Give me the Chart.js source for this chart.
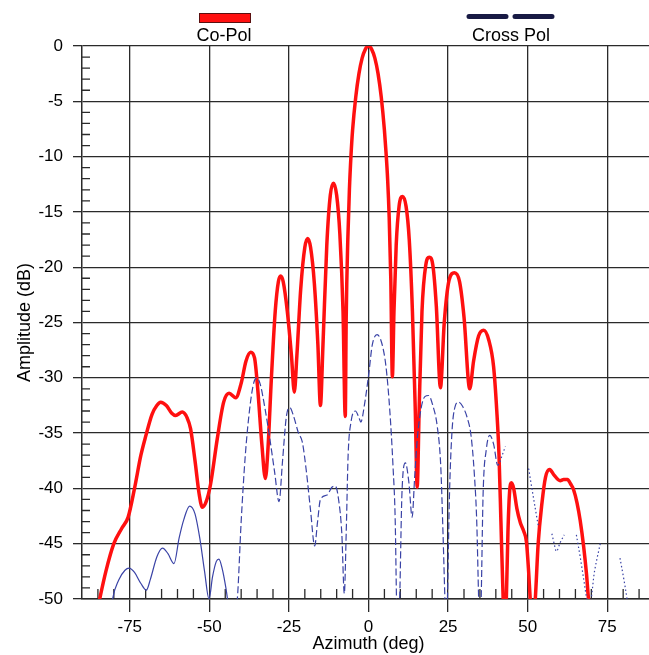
<!DOCTYPE html>
<html>
<head>
<meta charset="utf-8">
<script src="https://cdn.jsdelivr.net/npm/chart.js@4.4.1/dist/chart.umd.min.js"></script>
<style>
  html, body { margin: 0; padding: 0; background: #fff; overflow: hidden; }
  #wrap { width: 660px; height: 655px; }
</style>
</head>
<body>
<div id="wrap"><canvas id="myChart"></canvas></div>
<script>
// azimuth (deg) / amplitude (dB)
const coAz = [-85.2, -82.5, -80, -77.5, -75.5, -73.5, -71.5, -70, -68, -66.5, -65.3, -63.5, -61.8, -60.6, -58.5, -57, -55.9, -54.5, -53.2, -52.2, -51, -49.6, -47.5, -45.5, -43.8, -41.7, -40, -38.5, -37, -35.8, -34.8, -33.5, -32.4, -31.6, -30.5, -29.3, -28.3, -27.6, -26.8, -25.5, -24.2, -23.3, -22.5, -21.3, -20, -19.1, -18.2, -17, -15.9, -15.1, -14.3, -13.1, -12, -11, -10, -9, -8, -7.3, -7, -6.5, -6, -5.5, -5, -4, -3, -2, -1, 0, 1, 2, 3, 4, 5, 5.5, 6, 6.5, 7, 7.5, 8, 8.7, 9.6, 10.7, 11.8, 12.8, 13.8, 14.7, 15.3, 15.9, 16.8, 18, 19.1, 20.2, 21.3, 22.6, 23.8, 25.3, 27, 28.6, 30, 31.8, 33, 34.6, 36.2, 37.8, 39.3, 40.3, 41, 41.6, 42.3, 42.8, 43.3, 43.8, 44.3, 44.9, 45.6, 46.6, 47.7, 48.8, 49.6, 50.3, 50.8, 51.6, 52.4, 53.3, 54.5, 55.6, 56.9, 58.3, 60.2, 61.3, 62.5, 63.5, 64.4, 65.5, 66.5, 67.6, 68.5, 69.1, 69.8];
const coDb = [-51, -47.5, -45, -43.6, -42.6, -40, -37, -35.3, -33.3, -32.5, -32.2, -32.5, -33.2, -33.4, -33.1, -33.6, -34.6, -37.5, -40.5, -41.7, -41.2, -39.6, -35.5, -32.2, -31.4, -31.8, -30.5, -28.5, -27.7, -28.2, -31, -36, -39.1, -36.5, -30, -24, -21.3, -20.8, -21.3, -24, -28, -31.3, -28, -22, -18.2, -17.4, -18.2, -21.5, -27, -32.5, -27, -18, -13.5, -12.4, -13.5, -17, -24, -33.5, -24.5, -17.5, -13, -9.9, -7.6, -4.6, -2.5, -1.1, -0.3, 0, -0.3, -1.1, -2.5, -4.6, -7.6, -9.6, -12, -15.5, -21, -29.9, -24, -18, -14.5, -13.6, -14.5, -17.5, -24, -33, -39.9, -33, -24, -19.8, -19.1, -19.8, -23.5, -30.9, -25, -21.2, -20.5, -21.3, -24.5, -31, -28.5, -26.2, -25.7, -26.6, -29, -33, -37, -43, -50, -53, -50, -44, -40.4, -39.5, -40, -41.8, -43.1, -43.9, -44.8, -47.5, -50, -53, -50, -45, -41.3, -39, -38.3, -38.8, -39.3, -39.2, -39.2, -39.6, -40.1, -41.3, -42.9, -45.3, -47.8, -50, -52];

const crossAz = [-81, -80.4, -78.5, -76.5, -75.2, -73.5, -71.5, -69.8, -68.5, -66.5, -64.7, -63, -61.1, -59.5, -58, -56.2, -54.5, -53, -51.5, -50.1, -49, -47.8, -47, -46, -44.8, -44.3, -43, -41.2, -40, -38.7, -37.2, -36, -35, -34, -32.5, -31, -29.5, -28.1, -27, -25.8, -24.7, -23.5, -22, -20.8, -19.5, -18.2, -16.9, -16, -15.1, -13, -11.5, -10.4, -9.4, -8.4, -7.6, -7, -6.4, -5.5, -4.1, -3, -2.4, -1.3, 0.1, 1.2, 2.7, 4.2, 5.5, 6.7, 7.7, 8.4, 8.8, 9.3, 9.8, 10.5, 11.6, 12.7, 13.7, 14.5, 15.3, 16.5, 17.7, 18.9, 20.2, 21.6, 22.7, 23.4, 24, 24.4, 24.8, 25.4, 26.2, 27.2, 28.3, 29.6, 31, 32.2, 33.2, 34, 34.6, 35, 35.4, 36, 37, 38.1, 39.3, 40.6, 42, 43, 44, 50.3, 51.5, 52.5, 53.4, 55, 57.6, 58.4, 59, 60.2, 61.5, 63, 65.3, 66.5, 67.6, 68.6, 69.5, 71, 72.8, 75, 79, 80.2, 81.2, 81.6];
const crossDb = [-51.5, -50, -48.3, -47.4, -47.2, -47.6, -48.6, -49.2, -48.2, -46.2, -45.4, -45.9, -46.8, -44.5, -42.8, -41.6, -42.3, -44.5, -47.5, -50, -48, -46.6, -46.4, -47.2, -49, -50, -53, -50, -43, -37, -32.5, -30.4, -30, -30.6, -32.8, -35.5, -38.5, -41.2, -37.5, -33.5, -32.7, -33.5, -35, -35.8, -38.5, -42, -45.2, -43, -41, -40.6, -39.9, -39.8, -41, -44, -49.5, -44, -37, -34, -33, -33.6, -34, -32.5, -29.6, -27, -26.1, -26.9, -29, -33, -38, -43, -50, -54, -50, -40.5, -37.7, -39.5, -42.6, -39, -35.6, -32.8, -31.7, -31.6, -32.5, -34.4, -38, -44, -50, -54, -50, -41, -35, -32.6, -32.2, -32.6, -33.6, -35.2, -38.5, -43, -50, -54, -50, -40.5, -36.5, -35.2, -36, -37.9, -37, -36.2, null, -38.2, -40.3, -42, -43.5, null, -44.1, -45.1, -45.7, -44.9, -44.2, null, -44.2, -46.2, -48.2, -50, -50.5, -47.5, -45, null, -46.3, -48.2, -50, -51];

const xTicks = [-75, -50, -25, 0, 25, 50, 75];
const seriesNames = ['Co-Pol', 'Cross Pol'];

const FONT = "'Liberation Sans', Arial, sans-serif";
const GRID = '#2a2a2a';

const toPoints = (xs, ys) => xs.map((x, i) => ({ x: x, y: ys[i] }));

// minor ticks on the axes + the legend above the plot
const extras = {
  id: 'extras',
  beforeDatasetsDraw(chart) {
    const { ctx, chartArea: a, scales: { x, y } } = chart;
    ctx.save();
    ctx.strokeStyle = GRID;
    ctx.lineWidth = 1.3;
    ctx.beginPath();
    for (let v = -49; v < 0; v++) {
      if (v % 5 === 0) continue;
      const py = y.getPixelForValue(v);
      ctx.moveTo(a.left, py);
      ctx.lineTo(a.left + 8, py);
    }
    for (let v = -85; v <= 85; v += 5) {
      if (v % 25 === 0) continue;
      const px = x.getPixelForValue(v);
      ctx.moveTo(px, a.bottom);
      ctx.lineTo(px, a.bottom - 10);
    }
    ctx.stroke();
    ctx.restore();
  },
  afterDraw(chart) {
    const ctx = chart.ctx;
    ctx.save();
    // Co-Pol swatch
    ctx.fillStyle = '#ff1010';
    ctx.fillRect(199, 13, 52, 10);
    ctx.strokeStyle = '#5a1010';
    ctx.lineWidth = 1;
    ctx.strokeRect(199.5, 13.5, 51, 9);
    // Cross Pol swatch
    ctx.strokeStyle = '#181a44';
    ctx.lineWidth = 5;
    ctx.lineCap = 'round';
    ctx.beginPath();
    ctx.moveTo(469, 16.5); ctx.lineTo(506, 16.5);
    ctx.moveTo(515, 16.5); ctx.lineTo(552, 16.5);
    ctx.stroke();
    ctx.fillStyle = '#000';
    ctx.font = '18px ' + FONT;
    ctx.textAlign = 'center';
    ctx.textBaseline = 'middle';
    ctx.fillText(seriesNames[0], 224, 36);
    ctx.fillText(seriesNames[1], 511, 36);
    ctx.restore();
  }
};

new Chart(document.getElementById('myChart'), {
  type: 'line',
  data: {
    datasets: [
      {
        label: seriesNames[1],
        data: toPoints(crossAz, crossDb),
        borderColor: '#3a43a6',
        borderWidth: 1.2,
        pointRadius: 0,
        fill: false,
        spanGaps: false,
        cubicInterpolationMode: 'monotone',
        segment: {
          borderDash: c => {
            const x0 = c.p0.parsed.x;
            if (x0 < -44) return [];
            if (x0 < 40.5) return [7, 3];
            return [1.5, 2.5];
          }
        }
      },
      {
        label: seriesNames[0],
        data: toPoints(coAz, coDb),
        borderColor: '#ff1010',
        borderWidth: 3.5,
        pointRadius: 0,
        fill: false,
        cubicInterpolationMode: 'monotone'
      }
    ]
  },
  options: {
    responsive: true,
    maintainAspectRatio: false,
    animation: false,
    layout: { padding: { top: 46, right: 5, left: 0, bottom: 0 } },
    plugins: { legend: { display: false }, tooltip: { enabled: false } },
    scales: {
      x: {
        type: 'linear',
        min: -90,
        max: 90,
        afterBuildTicks: s => { s.ticks = xTicks.map(v => ({ value: v })); },
        ticks: { color: '#000', font: { family: FONT, size: 17 }, padding: 5, maxRotation: 0, autoSkip: false },
        grid: { color: GRID, lineWidth: 1.3, tickLength: 13 },
        border: { color: GRID, width: 1.5 },
        title: { display: true, text: 'Azimuth (deg)', color: '#000', font: { family: FONT, size: 18 }, padding: { top: 0, bottom: 0 } },
        afterFit: s => { s.height = 56; }
      },
      y: {
        min: -50,
        max: 0,
        ticks: { stepSize: 5, color: '#000', font: { family: FONT, size: 17 }, padding: 10 },
        grid: { color: GRID, lineWidth: 1.3, tickLength: 9 },
        border: { color: GRID, width: 1.5 },
        title: { display: true, text: 'Amplitude (dB)', color: '#000', font: { family: FONT, size: 18 }, padding: { top: 14, bottom: 0 } },
        afterFit: s => { s.width = 82; }
      }
    }
  },
  plugins: [extras]
});
</script>
</body>
</html>
